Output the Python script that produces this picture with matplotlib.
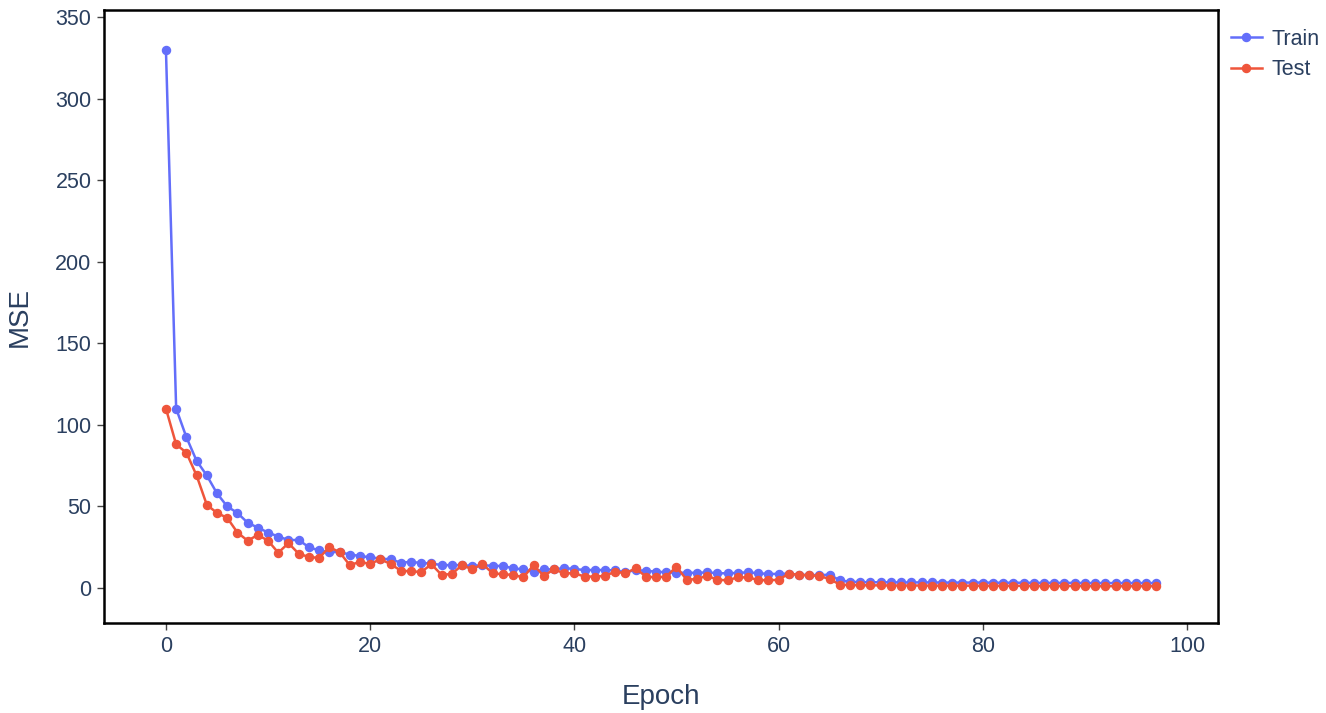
import matplotlib
matplotlib.use("Agg")
import matplotlib.pyplot as plt
import numpy as np

train_mse = [330, 110, 92.5, 78, 69, 58, 50, 46, 40, 37,
             34, 31.5, 29.4, 29.4, 25, 23, 22, 22, 20.5, 19.6,
             18.8, 18, 17.6, 15.5, 16, 15.3, 15, 14, 14,
             14, 13.5, 14, 13.5, 13.5, 12, 11.4, 9.8, 11.4, 11.4,
             12.2, 11.6, 11, 11, 11, 10.8, 9.6, 11, 10.5, 10,
             9.6, 9.2, 9.4, 9.2, 9.6, 9, 9, 9.2, 9.6, 9,
             8.6, 8.6, 8.8, 8, 8, 7.8, 8.2, 4.6, 3.8, 3.6,
             3.5, 3.5, 3.5, 3.4, 3.4, 3.4, 3.4, 3.3, 3.3, 3.3,
             3.3, 3.3, 3.2, 3.2, 3.2, 3.2, 3.1, 3.1, 3.1,
             3.1, 3.1, 3.0, 3.0, 3.0, 3.0, 3.0, 3.0, 3.0, 3.0]

test_mse = [110, 88, 83, 69, 51, 46, 43, 34, 29, 32.5,
            29, 21.6, 27.5, 21, 19, 18.4, 25, 22, 14, 16,
            14.7, 17.6, 14.7, 10.6, 10.2, 9.8, 14.5, 8, 8.6,
            14, 11.4, 14.7, 9, 8.4, 8, 6.5, 14, 7.4, 11.4,
            9, 9, 7, 7, 7.4, 10, 9, 12, 7, 6.5,
            7, 13, 5, 5.5, 7.5, 5, 4.7, 6.5, 6.5, 4.9,
            4.7, 5, 8.8, 8, 7.8, 7.3, 5.5, 2.0, 1.8, 1.7,
            1.6, 1.6, 1.5, 1.5, 1.5, 1.5, 1.4, 1.4, 1.4, 1.4,
            1.4, 1.3, 1.3, 1.3, 1.3, 1.3, 1.2, 1.2, 1.2,
            1.2, 1.2, 1.2, 1.1, 1.1, 1.1, 1.1, 1.1, 1.1, 1.1]

epochs = list(range(len(train_mse)))

x_ticks = [0, 20, 40, 60, 80, 100]
y_ticks = [0, 50, 100, 150, 200, 250, 300, 350]

TEXT = "#2a3f5f"
BLUE = "#636efa"
RED = "#ef553b"

plt.rcParams['font.family'] = ['Liberation Sans', 'DejaVu Sans']

fig = plt.figure(figsize=(13.26, 7.13), dpi=100)
ax = fig.add_axes([0.0784, 0.1262, 0.8402, 0.8598])

ax.plot(epochs, train_mse, color=BLUE, lw=1.8, marker='o', ms=5.8, label='Train')
ax.plot(epochs, test_mse, color=RED, lw=1.8, marker='o', ms=5.8, label='Test')

ax.set_xlim(-6.07, 103.04)
ax.set_ylim(-21.5, 354.4)
ax.set_xticks(x_ticks)
ax.set_yticks(y_ticks)
ax.tick_params(axis='both', labelsize=15.5, labelcolor=TEXT, color='#444444',
               length=5, width=1, direction='out', pad=4)
for s in ax.spines.values():
    s.set_linewidth(1.8)
    s.set_color('black')

ax.set_xlabel('Epoch', fontsize=20, color=TEXT, labelpad=20)
ax.set_ylabel('MSE', fontsize=20, color=TEXT, labelpad=16)

fig.legend(loc='upper left', bbox_to_anchor=(0.9215, 0.972), frameon=False,
           fontsize=15.5, labelcolor=TEXT, handlelength=1.45, handletextpad=0.45,
           borderaxespad=0, labelspacing=0.45)

fig.savefig('out.png', dpi=100)
